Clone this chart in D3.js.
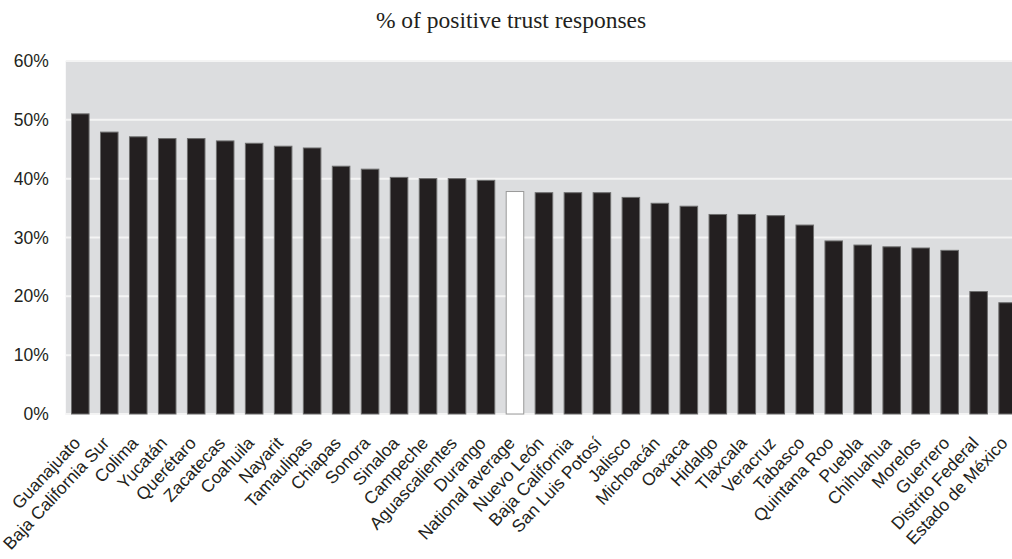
<!DOCTYPE html>
<html>
<head>
<meta charset="utf-8">
<script src="https://cdn.jsdelivr.net/npm/d3@7"></script>
<style>
  html, body { margin: 0; padding: 0; background: #fff; }
  svg { display: block; }
</style>
</head>
<body>
<svg id="chart" width="1012" height="559"></svg>
<script>
// States ranked by share of positive trust responses (%)
const states = [
  "Guanajuato", "Baja California Sur", "Colima", "Yucatán", "Querétaro",
  "Zacatecas", "Coahuila", "Nayarit", "Tamaulipas", "Chiapas", "Sonora",
  "Sinaloa", "Campeche", "Aguascalientes", "Durango", "National average",
  "Nuevo León", "Baja California", "San Luis Potosí", "Jalisco", "Michoacán",
  "Oaxaca", "Hidalgo", "Tlaxcala", "Veracruz", "Tabasco", "Quintana Roo",
  "Puebla", "Chihuahua", "Morelos", "Guerrero", "Distrito Federal",
  "Estado de México"
];
const trustValues = [
  51.1, 48.0, 47.2, 46.9, 46.9,
  46.5, 46.1, 45.6, 45.3, 42.2, 41.7,
  40.3, 40.1, 40.1, 39.8, 37.9,
  37.7, 37.7, 37.7, 36.9, 35.9,
  35.4, 34.0, 34.0, 33.8, 32.2, 29.5,
  28.8, 28.5, 28.3, 27.9, 20.9,
  19.0
];
const highlighted = ["National average"];
const yTicks = [0, 10, 20, 30, 40, 50, 60];
const titleText = "% of positive trust responses";

const data = states.map((name, i) => ({ name, value: trustValues[i] }));

const svg = d3.select("#chart");
const plot = { left: 65.8, right: 1022.1, top: 61, bottom: 414 };

const x = d3.scaleBand()
  .domain(states)
  .range([plot.left, plot.right])
  .paddingInner(0.36)
  .paddingOuter(0.18);

const y = d3.scaleLinear()
  .domain([0, 60])
  .range([plot.bottom, plot.top]);

// plot background
svg.append("rect")
  .attr("x", plot.left)
  .attr("y", plot.top)
  .attr("width", plot.right - plot.left)
  .attr("height", plot.bottom - plot.top + 1)
  .attr("fill", "#dcdddf");

// horizontal gridlines
svg.append("g")
  .selectAll("line")
  .data(yTicks)
  .join("line")
  .attr("x1", plot.left)
  .attr("x2", plot.right)
  .attr("y1", d => y(d))
  .attr("y2", d => y(d))
  .attr("stroke", "#f4f4f4")
  .attr("stroke-width", 2);

// y axis labels
const yAxis = d3.axisLeft(y)
  .tickValues(yTicks)
  .tickFormat(d => d + "%")
  .tickSize(0)
  .tickPadding(17);

svg.append("g")
  .attr("transform", `translate(${plot.left},0)`)
  .call(yAxis)
  .call(g => g.select(".domain").remove())
  .call(g => g.selectAll("text")
    .attr("font-family", "Liberation Sans, Arial, sans-serif")
    .attr("font-size", 17.5)
    .attr("fill", "#231f20"));

// bars
svg.append("g")
  .selectAll("rect")
  .data(data)
  .join("rect")
  .attr("x", d => x(d.name) + 0.5)
  .attr("y", d => y(d.value) + 0.5)
  .attr("width", x.bandwidth() - 1)
  .attr("height", d => y(0) - y(d.value) - 0.5)
  .attr("fill", d => highlighted.includes(d.name) ? "#ffffff" : "#231f20")
  .attr("stroke", d => highlighted.includes(d.name) ? "#9a9a9a" : "#6e6e6e")
  .attr("stroke-width", 1);

// x axis labels, rotated
const xAxis = d3.axisBottom(x).tickSize(0).tickPadding(0);
svg.append("g")
  .attr("transform", `translate(0,${plot.bottom})`)
  .call(xAxis)
  .call(g => g.select(".domain").remove())
  .call(g => g.selectAll("text")
    .attr("font-family", "Liberation Sans, Arial, sans-serif")
    .attr("font-size", 17.5)
    .attr("fill", "#231f20")
    .attr("text-anchor", "end")
    .attr("dy", null)
    .attr("y", 0)
    .attr("transform", "translate(1,30) rotate(-47)"));

// title
svg.append("text")
  .attr("x", 511)
  .attr("y", 28)
  .attr("text-anchor", "middle")
  .attr("font-family", "Liberation Serif, Times New Roman, serif")
  .attr("font-size", 23.5)
  .attr("fill", "#231f20")
  .text(titleText);
</script>
</body>
</html>
